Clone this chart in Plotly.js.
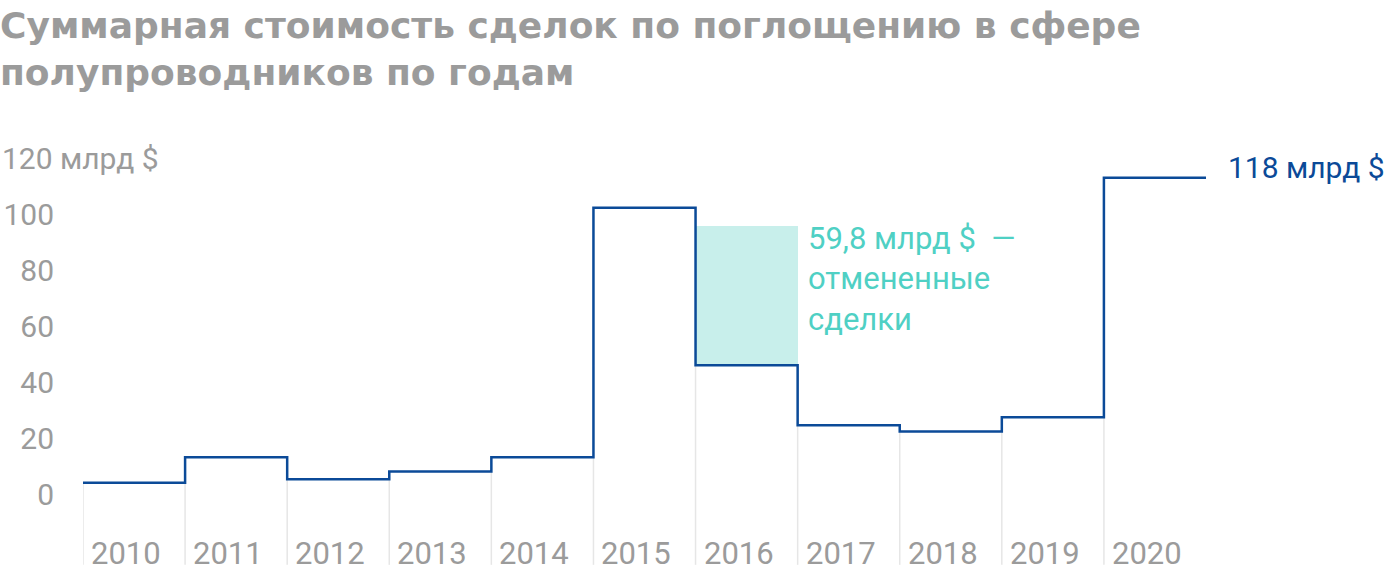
<!DOCTYPE html>
<html>
<head>
<meta charset="utf-8">
<script src="https://cdn.plot.ly/plotly-3.0.1.min.js"></script>
<style>html,body{margin:0;padding:0;background:#fff;}#chart{width:1400px;height:576px;}</style>
</head>
<body>
<div id="chart"></div>
<script>
// Data (billion USD)
const years = [2010, 2011, 2012, 2013, 2014, 2015, 2016, 2017, 2018, 2019, 2020];
const dealValues = [4.3, 13.4, 5.6, 8.3, 13.4, 102.6, 46.3, 24.9, 22.6, 27.7, 113.3];
const cancelYear = 2016;
const cancelTop = 96.2;
const yTickVals = [0, 20, 40, 60, 80, 100];
const yTickText = ['0', '20', '40', '60', '80', '100'];
const topTickVal = 120;
const topTickText = '120 млрд $';
const cancelLabel = '59,8 млрд $  —<br>отмененные<br>сделки';
const finalLabel = '118 млрд $';
const titleText = 'Суммарная стоимость сделок по поглощению в сфере<br>полупроводников по годам';

const GRAY = '#9b9b9b';
const BLUE = '#0b4a98';
const TEAL_TEXT = '#4fd0c4';
const TEAL_FILL = '#c8efeb';
const GRID = '#e6e6e6';
const FONT = 'Roboto, Arial, sans-serif';
const TITLE_FONT = '"DejaVu Sans", Arial, sans-serif';
const yMin = -29, yMax = 125;
const gridBottom = -25;

// step line
const stepX = years.map(y => y - 0.5).concat([years[years.length - 1] + 0.5]);
const stepY = dealValues.concat([dealValues[dealValues.length - 1]]);

const cancelIdx = years.indexOf(cancelYear);

const traces = [
  {
    type: 'bar',
    x: [cancelYear],
    base: [dealValues[cancelIdx]],
    y: [cancelTop - dealValues[cancelIdx]],
    width: [1],
    marker: {color: TEAL_FILL, line: {width: 0}},
    hoverinfo: 'skip',
    showlegend: false
  },
  {
    type: 'scatter',
    mode: 'lines',
    x: stepX,
    y: stepY,
    line: {shape: 'hv', color: BLUE, width: 2.5},
    hoverinfo: 'skip',
    showlegend: false
  }
];

// vertical light grid lines at the left edge of each year, from bottom up to the lower neighbouring step
const shapes = years.map((y, i) => ({
  type: 'line',
  xref: 'x', yref: 'y',
  x0: y - 0.5, x1: y - 0.5,
  y0: gridBottom, y1: i === 0 ? dealValues[0] : Math.min(dealValues[i - 1], dealValues[i]),
  line: {color: GRID, width: 1.5},
  layer: 'below'
}));

const annotations = years.map(y => ({
  xref: 'x', yref: 'y',
  x: y - 0.5, y: -21,
  xanchor: 'left', yanchor: 'middle',
  xshift: 6,
  text: String(y),
  showarrow: false,
  font: {family: FONT, size: 31, color: GRAY}
}));

annotations.push({
  xref: 'paper', yref: 'y',
  x: 0, xshift: -83, y: topTickVal,
  xanchor: 'left', yanchor: 'middle',
  text: topTickText, showarrow: false,
  font: {family: FONT, size: 30, color: GRAY}
});

annotations.push({
  xref: 'x', yref: 'y',
  x: cancelYear + 0.5, xshift: 8,
  y: cancelTop, yshift: 8,
  xanchor: 'left', yanchor: 'top', align: 'left',
  text: cancelLabel, showarrow: false,
  font: {family: FONT, size: 31, color: TEAL_TEXT}
});

annotations.push({
  xref: 'x', yref: 'y',
  x: years[years.length - 1] + 0.5, xshift: 20,
  y: dealValues[dealValues.length - 1], yshift: 10,
  xanchor: 'left', yanchor: 'middle',
  text: finalLabel, showarrow: false,
  font: {family: FONT, size: 30, color: BLUE}
});

const layout = {
  width: 1400, height: 576,
  margin: {l: 83, r: 194, t: 145, b: 0, pad: 0},
  paper_bgcolor: '#fff', plot_bgcolor: '#fff',
  showlegend: false,
  title: {
    text: titleText,
    xref: 'container', yref: 'container',
    x: 0, xanchor: 'left',
    y: 1, yanchor: 'top',
    pad: {t: 38, l: 0},
    font: {family: TITLE_FONT, size: 36, color: GRAY, weight: 'bold'}
  },
  xaxis: {
    range: [years[0] - 0.5, years[years.length - 1] + 0.5],
    showgrid: false, zeroline: false, showline: false,
    showticklabels: false, ticks: '', fixedrange: true
  },
  yaxis: {
    range: [yMin, yMax],
    tickvals: yTickVals, ticktext: yTickText,
    showgrid: false, zeroline: false, showline: false,
    ticks: '', ticklabelstandoff: 28,
    tickfont: {family: FONT, size: 30, color: GRAY},
    fixedrange: true
  },
  shapes: shapes,
  annotations: annotations,
  bargap: 0
};

Plotly.newPlot('chart', traces, layout, {displayModeBar: false, staticPlot: true});
</script>
</body>
</html>
